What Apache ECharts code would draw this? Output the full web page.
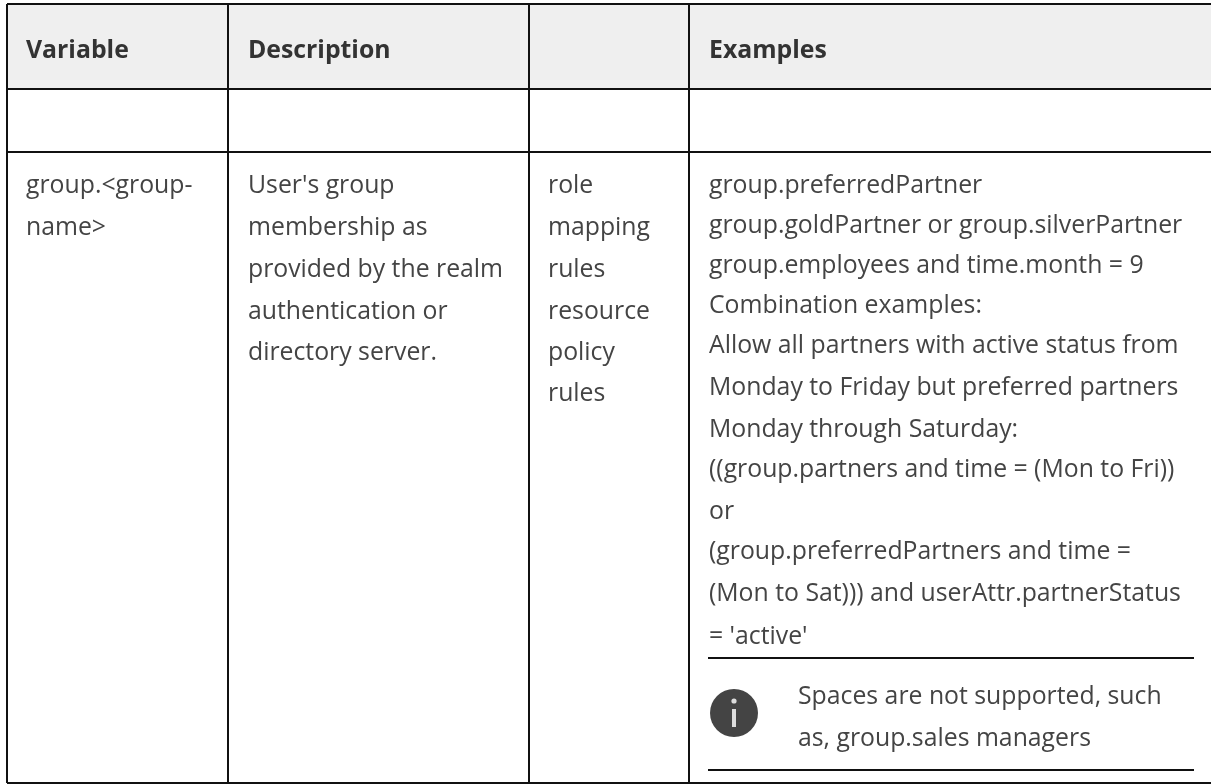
<!DOCTYPE html>
<html>
<head>
<meta charset="utf-8">
<style>
  html, body { margin: 0; padding: 0; background: #fff; }
  #chart { width: 1211px; height: 784px; }
</style>
<script src="https://cdn.jsdelivr.net/npm/echarts@6/dist/echarts.min.js"></script>
</head>
<body>
<div id="chart"></div>
<script>
// table text
const headers = ['Variable', 'Description', '', 'Examples']
const variableLines = ['group.<group-', 'name>']
const descriptionLines = ["User's group", 'membership as', 'provided by the realm', 'authentication or', 'directory server.']
const usageLines = ['role', 'mapping', 'rules', 'resource', 'policy', 'rules']
const exampleLines = [
  'group.preferredPartner',
  'group.goldPartner or group.silverPartner',
  'group.employees and time.month = 9',
  'Combination examples:',
  'Allow all partners with active status from',
  'Monday to Friday but preferred partners',
  'Monday through Saturday:',
  '((group.partners and time = (Mon to Fri))',
  'or',
  '(group.preferredPartners and time =',
  '(Mon to Sat))) and userAttr.partnerStatus',
  "= 'active'"
]
const noteLines = ['Spaces are not supported, such', 'as, group.sales managers']

// layout of the table, in page pixels
const columnLines = [7, 228, 529, 689]
const rowLines = [4, 89, 152, 783]
const pageRight = 1211
const headerTextX = [26, 248, 548, 709]
const headerBaseline = 58
const columnBaselines = [193, 235, 277, 319, 360, 401]
const exampleBaselines = [193, 233, 273, 313, 353, 395, 437, 477, 519, 559, 601, 644]
const noteBaselines = [704, 746]
const noteTextX = 798
const noteRuleY = [658, 770]
const noteRuleX = [708, 1194]
const iconCenter = [734, 713]

const fontFamily = '"Open Sans", "Noto Sans", sans-serif'
const fontSize = 24.8

const toTextRows = (lines, x, baselines) => lines.map((text, i) => [x, baselines[i], text])
const headerRows = headers.map((text, i) => [headerTextX[i], headerBaseline, text])
const textRows = [
  ...toTextRows(variableLines, headerTextX[0], columnBaselines),
  ...toTextRows(descriptionLines, headerTextX[1], columnBaselines),
  ...toTextRows(usageLines, headerTextX[2], columnBaselines),
  ...toTextRows(exampleLines, headerTextX[3], exampleBaselines),
  ...toTextRows(noteLines, noteTextX, noteBaselines)
]

const ruleRows = []
rowLines.forEach(y => ruleRows.push([columnLines[0], y, pageRight, y]))
columnLines.forEach(x => ruleRows.push([x, rowLines[0], x, rowLines[3]]))
noteRuleY.forEach(y => ruleRows.push([noteRuleX[0], y, noteRuleX[1], y]))

const textSeries = (rows, weight, color) => ({
  type: 'custom',
  silent: true,
  z: 4,
  data: rows.map(r => [r[0], r[1]]),
  renderItem: (params, api) => {
    const c = api.coord([api.value(0), api.value(1)])
    return {
      type: 'text',
      style: {
        x: c[0],
        y: c[1],
        text: rows[params.dataIndex][2],
        font: weight + ' ' + fontSize + 'px ' + fontFamily,
        fill: color,
        verticalAlign: 'bottom',
        align: 'left'
      },
      // bottom of the text box sits under the baseline
      y: 5
    }
  }
})

const chart = echarts.init(document.getElementById('chart'))

chart.setOption({
  animation: false,
  backgroundColor: '#fff',
  grid: { left: 0, right: 0, top: 0, bottom: 0 },
  xAxis: { type: 'value', min: 0, max: 1211, show: false },
  yAxis: { type: 'value', min: 0, max: 784, inverse: true, show: false },
  series: [
    {
      // header background
      type: 'custom',
      silent: true,
      z: 1,
      data: [[columnLines[0], rowLines[0], pageRight, rowLines[1]]],
      renderItem: (params, api) => {
        const a = api.coord([api.value(0), api.value(1)])
        const b = api.coord([api.value(2), api.value(3)])
        return {
          type: 'rect',
          shape: { x: a[0], y: a[1], width: b[0] - a[0], height: b[1] - a[1] },
          style: { fill: '#efefef' }
        }
      }
    },
    {
      // table and note rules
      type: 'custom',
      silent: true,
      z: 2,
      data: ruleRows,
      renderItem: (params, api) => {
        const a = api.coord([api.value(0), api.value(1)])
        const b = api.coord([api.value(2), api.value(3)])
        return {
          type: 'line',
          shape: { x1: a[0], y1: a[1], x2: b[0], y2: b[1] },
          style: { stroke: '#111', lineWidth: 2 }
        }
      }
    },
    {
      // info icon
      type: 'custom',
      silent: true,
      z: 3,
      data: [iconCenter],
      renderItem: (params, api) => {
        const c = api.coord([api.value(0), api.value(1)])
        return {
          type: 'group',
          children: [
            { type: 'circle', shape: { cx: c[0], cy: c[1], r: 24 }, style: { fill: '#444' } },
            { type: 'rect', shape: { x: c[0] - 2, y: c[1] - 4, width: 4, height: 18 }, style: { fill: '#ddd' } },
            { type: 'circle', shape: { cx: c[0], cy: c[1] - 12, r: 2.6 }, style: { fill: '#ddd' } }
          ]
        }
      }
    },
    textSeries(headerRows, 'bold', '#333'),
    textSeries(textRows, 'normal', '#444')
  ]
})

window.addEventListener('resize', () => chart.resize())
</script>
</body>
</html>
